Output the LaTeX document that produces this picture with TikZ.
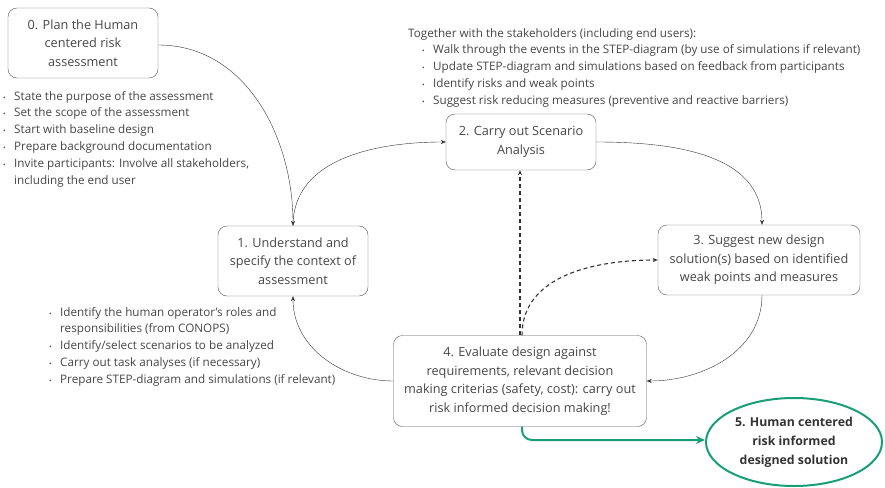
\documentclass[tikz,border=0pt]{standalone}
\usepackage{fontspec}
\setmainfont{Open Sans}
\usepackage{xcolor}
\usetikzlibrary{arrows.meta,positioning,shapes.geometric}
\definecolor{txtgray}{RGB}{70,70,70}
\definecolor{boxgray}{RGB}{85,85,85}
\definecolor{stepgreen}{RGB}{24,158,120}
\newcommand{\itm}[1]{\makebox[11pt][l]{\fontsize{7}{7}\selectfont\textbullet}#1}
\newcommand{\cnt}[1]{\hspace*{11pt}#1}

\begin{document}
\begin{tikzpicture}[
  x=1pt, y=-1pt,
  font=\fontsize{12.7}{18.5}\selectfont, text=txtgray,
  stepbox/.style={draw=boxgray, rounded corners=9pt, align=center, inner sep=2pt},
  notes/.style={align=left, anchor=north west, inner sep=0pt, font=\fontsize{11.7}{16.8}\selectfont},
  flow/.style={draw=black!80, -{Stealth[length=5pt,width=4pt]}},
  hint/.style={flow, line width=1.1pt, dash pattern=on 4pt off 3pt},
  result/.style={draw=stepgreen, line width=2pt, ellipse, align=center, text=black!80, font=\fontsize{12.3}{19}\selectfont\bfseries}
]
\useasboundingbox (0,0) rectangle (885,487);

% Steps
\node[stepbox, minimum width=150pt, minimum height=70pt] (plan) at (83,43) {0. Plan the Human\\centered risk\\assessment};
\node[stepbox, minimum width=150pt, minimum height=70pt] (context) at (293,261) {1. Understand and\\specify the context of\\assessment};
\node[stepbox, minimum width=150pt, minimum height=56pt] (scenario) at (521,142) {2. Carry out Scenario\\Analysis};
\node[stepbox, minimum width=202pt, minimum height=70pt] (suggest) at (759,260) {3. Suggest new design\\solution(s) based on identified\\weak points and measures};
\node[stepbox, minimum width=253pt, minimum height=91pt] (evaluate) at (520,381) {4. Evaluate design against\\requirements, relevant decision\\making criterias (safety, cost): carry out\\risk informed decision making!};
\node[result, minimum width=176pt, minimum height=88pt] (solution) at (794,442) {5. Human centered\\risk informed\\designed solution};

% Notes
\node[notes] (plannotes) at (3,91) {\itm{State the purpose of the assessment}\\
  \itm{Set the scope of the assessment}\\
  \itm{Start with baseline design}\\
  \itm{Prepare background documentation}\\
  \itm{Invite participants: Involve all stakeholders,}\\
  \cnt{including the end user}};
\node[notes] (scennotes) at (408,28) {Together with the stakeholders (including end users):\\
  \hspace*{14pt}\itm{Walk through the events in the STEP-diagram (by use of simulations if relevant)}\\
  \hspace*{14pt}\itm{Update STEP-diagram and simulations based on feedback from participants}\\
  \hspace*{14pt}\itm{Identify risks and weak points}\\
  \hspace*{14pt}\itm{Suggest risk reducing measures (preventive and reactive barriers)}};
\node[notes] (ctxnotes) at (49,307) {\itm{Identify the human operator's roles and}\\
  \cnt{responsibilities (from CONOPS)}\\
  \itm{Identify/select scenarios to be analyzed}\\
  \itm{Carry out task analyses (if necessary)}\\
  \itm{Prepare STEP-diagram and simulations (if relevant)}};

% Cycle
\draw[flow] (plan.east) ++(0,2) to[out=0, in=90] (context.north);
\draw[flow] (context.north) to[out=90, in=180] (scenario.west);
\draw[flow] (scenario.east) to[out=0, in=90] ([xshift=3pt]suggest.north);
\draw[flow] ([xshift=3pt]suggest.south) to[out=-90, in=0] (evaluate.east);
\draw[flow] (evaluate.west) to[out=180, in=-90] (context.south);

% Feedback
\draw[hint] (evaluate.north) -- (evaluate.north |- scenario.south);
\draw[hint] ([xshift=2pt]evaluate.north) to[out=90, in=180] (suggest.west);

% Outcome
\draw[draw=stepgreen, line width=2pt, rounded corners=10pt, -{Stealth[length=9pt,width=8pt]}] ([xshift=2pt]evaluate.south) |- ([yshift=2pt]solution.west);
\end{tikzpicture}
\end{document}
